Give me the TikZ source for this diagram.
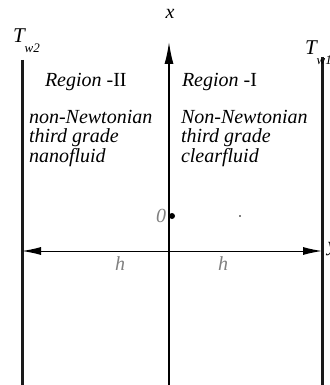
\documentclass[tikz,border=0pt]{standalone}
\usepackage{fontspec}
\setmainfont{Liberation Serif}
\newfontfamily\figfont{Liberation Serif}
\usetikzlibrary{arrows.meta,positioning}
\definecolor{labelgray}{HTML}{808080}
\definecolor{wallblack}{HTML}{1A1A1A}

\begin{document}
\begin{tikzpicture}[
    x=1pt, y=1pt,
    every node/.style={inner sep=0pt, outer sep=0pt},
    wall/.style={draw=wallblack, line width=3pt},
    axis/.style={line width=1.4pt, -{Latex[length=22pt,width=9pt]}},
    span/.style={line width=1pt, {Latex[length=19pt,width=8pt]}-{Latex[length=19pt,width=8pt]}},
    regiontext/.style={font=\figfont\fontsize{20}{19.5}\selectfont\itshape, align=left, anchor=north west},
    regiontitle/.style={font=\figfont\fontsize{20}{20}\selectfont, anchor=base west},
    walltemp/.style={font=\figfont\fontsize{21}{21}\selectfont\itshape, anchor=base west},
    grayLabel/.style={font=\figfont\fontsize{20}{20}\selectfont\itshape, text=labelgray},
  ]
  \useasboundingbox (0,0) rectangle (329,-385);

  % --- Walls ---
  \coordinate (w2top) at (22,-60);
  \coordinate (w2bot) at (22,-386);
  \coordinate (w1top) at (322,-57);
  \coordinate (w1bot) at (322,-386);
  \draw[wall] (w2top) -- (w2bot);
  \draw[wall] (w1top) -- (w1bot);

  % --- Wall temperatures ---
  \node[walltemp] (tw2) at (13,-43)
    {T\raisebox{-10pt}{\fontsize{13}{13}\selectfont w2}};
  \node[walltemp] (tw1) at (305,-55)
    {T\raisebox{-10pt}{\fontsize{13}{13}\selectfont w1}};

  % --- Axes ---
  \coordinate (axbot) at (169,-386);
  \coordinate (axtop) at (169,-42);
  \draw[axis] (axbot) -- (axtop);
  \node[font=\figfont\fontsize{20}{20}\selectfont\itshape] (xlab) at (170,-14) {x};

  \coordinate (hleft) at (22,-251);
  \coordinate (hright) at (322,-251);
  \draw[span] (hleft) -- (hright);
  \node[font=\figfont\fontsize{20}{20}\selectfont\itshape, anchor=base west] (ylab) at (327.5,-251) {y};

  % --- Origin ---
  \fill (172,-216) circle (3pt) coordinate (origin);
  \fill (240,-216) circle (0.8pt) coordinate (mark);
  \node[grayLabel, left=6pt of origin] (zero) {0};
  \node[grayLabel, anchor=base] (hII) at (120,-270) {h};
  \node[grayLabel, anchor=base] (hI) at (223,-270) {h};

  % --- Regions ---
  \node[regiontitle] (titleII) at (45,-87) {\textit{Region} -II};
  \node[regiontitle] (titleI) at (182,-87) {\textit{Region} -I};
  \node[regiontext] (fluidII) at (29,-110)
    {non-Newtonian\\third grade\\nanofluid};
  \node[regiontext] (fluidI) at (181,-110)
    {Non-Newtonian\\third grade\\clearfluid};
\end{tikzpicture}
\end{document}
